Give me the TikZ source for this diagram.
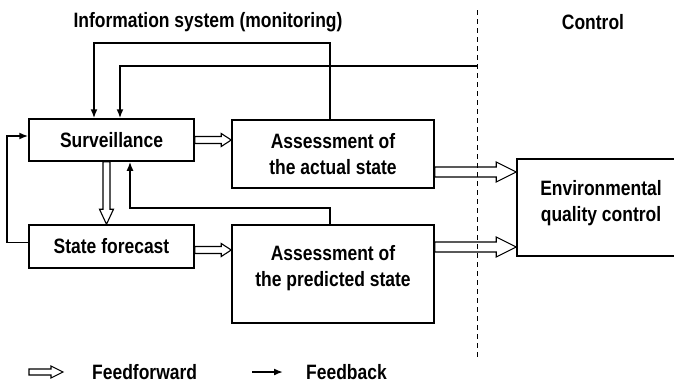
\documentclass[tikz,border=0pt]{standalone}
\usepackage{fontspec}
\setmainfont{Liberation Sans}[FakeStretch=0.84]
\usetikzlibrary{arrows.meta,calc}

\tikzset{
  box/.style={draw, line width=1.5pt, align=center, inner sep=0pt},
  fb/.style={line width=1.7pt, -{Latex[length=9pt,width=7pt]}},
  ff/.style={draw, fill=white, line width=1.1pt, line join=miter},
  legend/.style={anchor=west, inner sep=0pt},
}

% hollow feedforward arrows: from, to, half shaft, half head, head length
\newcommand{\ffright}[5]{%
  \draw[ff] ($(#1)+(0,#3)$) -- ($(#2)+(-#5,#3)$) -- ($(#2)+(-#5,#4)$) -- (#2)
    -- ($(#2)+(-#5,-#4)$) -- ($(#2)+(-#5,-#3)$) -- ($(#1)+(0,-#3)$) -- cycle;}
\newcommand{\ffdown}[5]{%
  \draw[ff] ($(#1)+(#3,0)$) -- ($(#2)+(#3,-#5)$) -- ($(#2)+(#4,-#5)$) -- (#2)
    -- ($(#2)+(-#4,-#5)$) -- ($(#2)+(-#3,-#5)$) -- ($(#1)+(-#3,0)$) -- cycle;}

\begin{document}
\begin{tikzpicture}[x=1pt, y=-1pt, font=\fontsize{20.8}{26}\selectfont\bfseries]
\useasboundingbox (0,0) rectangle (674,383);

% headings
\node (ttlinfo) at (208,22) {Information system (monitoring)};
\node (ttlctrl) at (593,22) {Control};

% blocks
\node[box, minimum width=165, minimum height=42] (surv) at (111.5,140) {Surveillance};
\node[box, minimum width=165, minimum height=43] (fcast) at (111.5,246.5) {State forecast};
\node[box, minimum width=202, minimum height=68] (actual) at (333,154) {Assessment of\\the actual state};
\node[box, minimum width=202, minimum height=98, text depth=16pt] (pred) at (333,274) {Assessment of\\the predicted state};
\node[box, minimum width=168, minimum height=97, text depth=13pt] (env) at (601,207.5) {Environmental\\quality control};

% levels of the feedback loops and the boundary line
\coordinate (lvlA) at (0,43);
\coordinate (lvlB) at (0,66);
\coordinate (lvlC) at (0,208);
\coordinate (bndtop) at (477,10);
\coordinate (bndbot) at (477,359);

% feedback
\draw[fb] ([xshift=-3pt]actual.north) -- ([xshift=-3pt]actual.north |- lvlA)
  -| ([xshift=-17.5pt]surv.north);
\draw[fb] (bndtop |- lvlB) -| ([xshift=8.5pt]surv.north);
\draw[fb] ([xshift=-3pt]pred.north) -- ([xshift=-3pt]pred.north |- lvlC)
  -| ([xshift=18.5pt]surv.south);
\draw[fb] ([yshift=4pt]fcast.west) -- ++(-21,0) |- ([yshift=4pt]surv.west);

% feedforward
\coordinate (sa) at (surv.east);
\coordinate (sb) at (actual.west |- sa);
\ffright{sa}{sb}{3.5}{6.5}{10}
\coordinate (fa) at ([yshift=-3.5pt]fcast.east);
\coordinate (fb) at (pred.west |- fa);
\ffright{fa}{fb}{3.5}{6.5}{10}
\coordinate (aa) at ([yshift=-18pt]actual.east);
\coordinate (ab) at (env.west |- aa);
\ffright{aa}{ab}{5}{10}{20}
\coordinate (pa) at ([yshift=27pt]pred.east);
\coordinate (pb) at (env.west |- pa);
\ffright{pa}{pb}{5}{10}{20}
\coordinate (da) at ([xshift=-5pt]surv.south);
\coordinate (db) at (da |- fcast.north);
\ffdown{da}{db}{3.5}{7}{15}

\draw[line width=1pt, dash pattern=on 5pt off 4pt] (bndtop) -- (bndbot);

% legend
\node[legend] (lgff) at (92,372) {Feedforward};
\node[legend] (lgfb) at (306,372) {Feedback};
\coordinate (lga) at ([xshift=-63pt]lgff.west);
\coordinate (lgb) at ([xshift=-29pt]lgff.west);
\ffright{lga}{lgb}{3}{6}{12}
\draw[fb] ([xshift=-54pt]lgfb.west) -- ([xshift=-23pt]lgfb.west);
\end{tikzpicture}
\end{document}
